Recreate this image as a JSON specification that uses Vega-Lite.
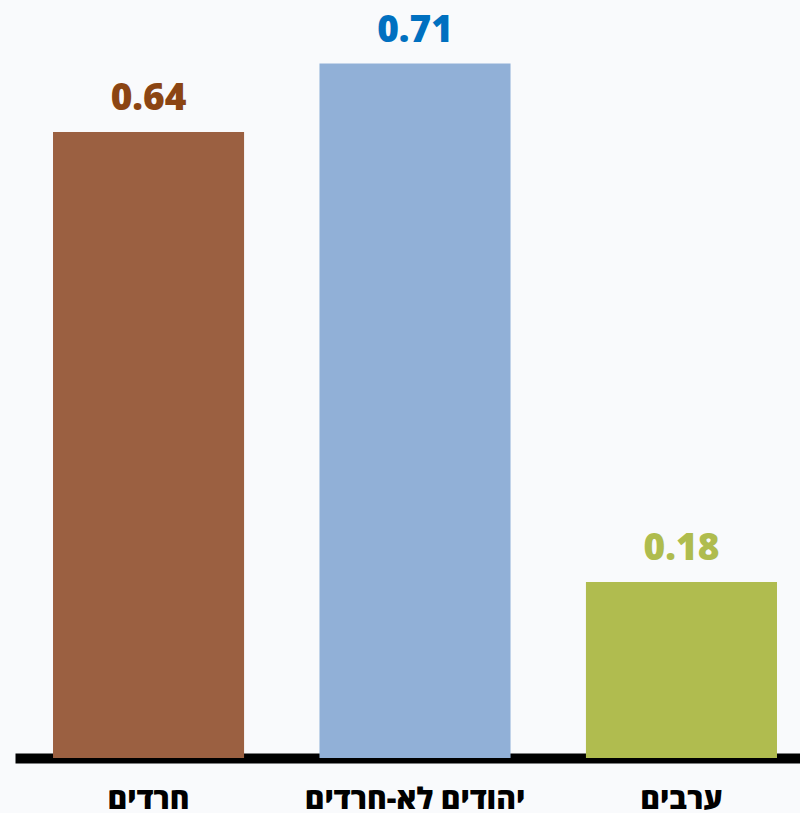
{
  "$schema": "https://vega.github.io/schema/vega-lite/v6.json",
  "autosize": {"type": "none"},
  "padding": {"left": 15, "top": 0, "right": 0, "bottom": 55},
  "width": 785,
  "height": 758,
  "background": "#f9fafc",
  "config": {"view": {"stroke": null}},
  "data": {"values": [
    {"group": "חרדים", "value": 0.64, "bar": "#9b6041", "txt": "#8b4513"},
    {"group": "יהודים לא-חרדים", "value": 0.71, "bar": "#91b0d7", "txt": "#0070c0"},
    {"group": "ערבים", "value": 0.18, "bar": "#b0bc4f", "txt": "#afbc4e"}
  ]},
  "encoding": {
    "x": {
      "field": "group", "type": "nominal", "sort": null,
      "scale": {"paddingInner": 0.283, "paddingOuter": 0.1145, "align": 0.623},
      "axis": {
        "title": null, "labelAngle": 0, "ticks": false, "labelLimit": 0,
        "domainColor": "#000000", "domainWidth": 10,
        "labelFont": "Open Sans", "labelFontWeight": 800, "labelFontSize": 30,
        "labelColor": "#000000", "labelPadding": 26, "labelBaseline": "top"
      }
    },
    "y": {
      "field": "value", "type": "quantitative",
      "scale": {"domain": [0, 0.775], "nice": false, "zero": true},
      "axis": null
    }
  },
  "layer": [
    {"mark": {"type": "bar"}, "encoding": {"color": {"field": "bar", "type": "nominal", "scale": null}}},
    {"mark": {"type": "text", "font": "Open Sans", "fontWeight": 800, "fontSize": 37, "baseline": "alphabetic", "dy": -22},
     "encoding": {"text": {"field": "value", "type": "quantitative", "format": ".2f"}, "color": {"field": "txt", "type": "nominal", "scale": null}}}
  ]
}
